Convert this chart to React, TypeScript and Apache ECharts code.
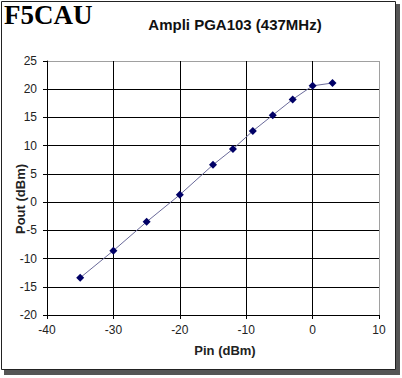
import React, { useEffect, useRef } from "react";
import * as echarts from "echarts";

const pinValues = [-35, -30, -25, -20, -15, -12, -9, -6, -3, 0, 3];
const poutValues = [-13.4, -8.6, -3.5, 1.3, 6.6, 9.4, 12.6, 15.4, 18.2, 20.6, 21.1];
const chartTitle = "Ampli PGA103 (437MHz)";
const watermark = "F5CAU";
const xName = "Pin (dBm)";
const yName = "Pout (dBm)";

export default function App() {
  const ref = useRef<HTMLDivElement>(null);
  useEffect(() => {
    document.body.style.margin = "0";
    const chart = echarts.init(ref.current!, null, { renderer: "svg" });
    const yColors = Array.from({ length: 10 }, (_, i) => (i === 9 ? "#a0a0a0" : "#000"));
    const xColors = Array.from({ length: 6 }, (_, i) => (i === 5 ? "#a0a0a0" : "#000"));
    chart.setOption({
      animation: false,
      backgroundColor: "#fff",
      title: {
        text: chartTitle,
        left: 230,
        top: 12,
        textAlign: "center",
        textStyle: { fontFamily: "Arial, Liberation Sans", fontSize: 15, fontWeight: "bold", color: "#111" },
      },
      graphic: [
        { type: "rect", shape: { x: 4, y: 4, width: 396, height: 371 }, style: { fill: "#555" }, z: -10 },
        { type: "rect", shape: { x: 1.5, y: 1.5, width: 394, height: 368 }, style: { fill: "#fff", stroke: "#222", lineWidth: 1 }, z: -9 },
        {
          type: "text",
          left: 4,
          top: 1,
          style: { text: watermark, font: "bold 27px 'Liberation Serif', 'Times New Roman', serif", fill: "#000" },
        },
      ],
      grid: { left: 47, top: 61, right: 23, bottom: 63, outerBoundsMode: "none", containLabel: false },
      xAxis: {
        type: "value",
        min: -40,
        max: 10,
        interval: 10,
        name: xName,
        nameLocation: "middle",
        nameGap: 29,
        nameMoveOverlap: false,
        nameTextStyle: { fontFamily: "Arial, Liberation Sans", fontSize: 13, fontWeight: "bold", color: "#222", padding: [0, 0, 0, 24] },
        axisLine: { onZero: false, lineStyle: { color: "#000", width: 1 } },
        axisTick: { show: true, length: 4, lineStyle: { color: "#000" } },
        axisLabel: { fontFamily: "Arial, Liberation Sans", fontSize: 12, color: "#222", margin: 9 },
        splitLine: { show: true, lineStyle: { color: xColors, width: 1 } },
      },
      yAxis: {
        type: "value",
        min: -20,
        max: 25,
        interval: 5,
        name: yName,
        nameLocation: "middle",
        nameGap: 20,
        nameMoveOverlap: false,
        nameTextStyle: { fontFamily: "Arial, Liberation Sans", fontSize: 13, fontWeight: "bold", color: "#222", padding: [0, 22, 0, 0] },
        axisLine: { show: true, onZero: false, lineStyle: { color: "#000", width: 1 } },
        axisTick: { show: true, length: 4, lineStyle: { color: "#000" } },
        axisLabel: { fontFamily: "Arial, Liberation Sans", fontSize: 12, color: "#222", margin: 10 },
        splitLine: { show: true, lineStyle: { color: yColors, width: 1 } },
      },
      series: [
        {
          type: "line",
          data: pinValues.map((x, i) => [x, poutValues[i]]),
          symbol: "diamond",
          symbolSize: 8,
          itemStyle: { color: "#000066" },
          lineStyle: { color: "#6a6a9a", width: 1 },
        },
      ],
    });
    return () => chart.dispose();
  }, []);
  return <div ref={ref} style={{ width: 402, height: 378 }} />;
}
